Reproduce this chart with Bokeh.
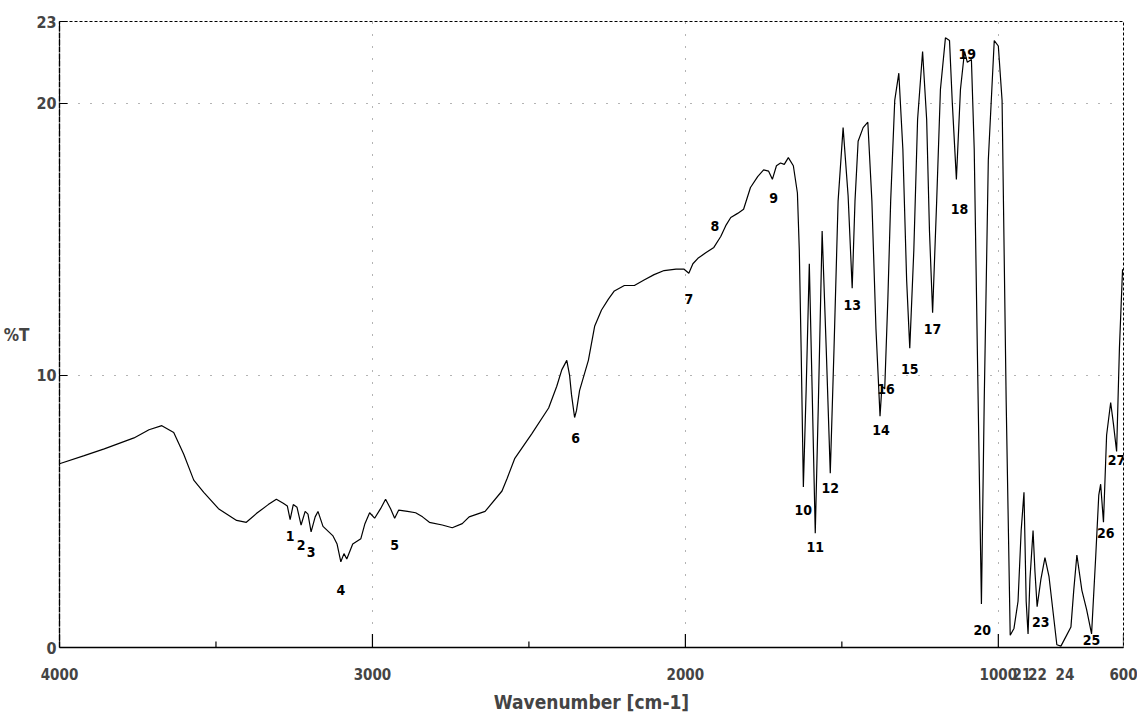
from bokeh.plotting import figure
from bokeh.models import Range1d, FixedTicker, LabelSet, ColumnDataSource
from bokeh.core.properties import value
from bokeh.embed import file_html
from bokeh.resources import INLINE

# ---- spectrum data (wavenumber cm-1, %T) ----
wavenumber = [4000, 3921, 3857, 3762, 3714, 3673, 3635, 3603, 3571, 3539, 3492, 3434, 3403, 3371,
              3333, 3307, 3285, 3272, 3263, 3253, 3241, 3228, 3215, 3206, 3196, 3183, 3174, 3158,
              3126, 3113, 3101, 3091, 3082, 3063, 3037, 3024, 3009, 2993, 2974, 2958, 2942, 2929,
              2916, 2888, 2862, 2840, 2818, 2777, 2745, 2713, 2691, 2640, 2586, 2570, 2545, 2491,
              2437, 2411, 2395, 2379, 2370, 2364, 2354, 2348, 2338, 2310, 2290, 2268, 2246, 2227,
              2195, 2163, 2132, 2100, 2068, 2030, 2004, 1989, 1976, 1960, 1935, 1909, 1887, 1871,
              1855, 1833, 1814, 1792, 1769, 1750, 1734, 1722, 1709, 1696, 1684, 1671, 1655, 1642,
              1636, 1630, 1623, 1614, 1604, 1595, 1585, 1575, 1563, 1550, 1537, 1525, 1512, 1496,
              1480, 1467, 1458, 1448, 1432, 1417, 1404, 1391, 1378, 1372, 1363, 1353, 1344, 1331,
              1318, 1305, 1293, 1283, 1270, 1258, 1242, 1229, 1220, 1210, 1197, 1185, 1169, 1156,
              1147, 1134, 1121, 1108, 1099, 1086, 1077, 1067, 1054, 1045, 1032, 1013, 1000, 988,
              975, 962, 950, 937, 927, 918, 911, 905, 899, 889, 883, 876, 864, 851, 838, 822, 813,
              800, 784, 768, 759, 749, 733, 718, 702, 689, 679, 673, 664, 654, 641, 632, 622, 613, 603]
transmittance = [6.75, 7.05, 7.3, 7.7, 8.0, 8.15, 7.9, 7.1, 6.15, 5.7, 5.1, 4.67, 4.6, 4.92,
                 5.25, 5.45, 5.3, 5.2, 4.7, 5.25, 5.15, 4.5, 5.0, 4.9, 4.25, 4.8, 5.0, 4.45,
                 4.1, 3.8, 3.15, 3.45, 3.25, 3.8, 4.0, 4.55, 4.95, 4.75, 5.1, 5.45, 5.1, 4.75,
                 5.05, 5.0, 4.95, 4.8, 4.6, 4.5, 4.4, 4.55, 4.8, 5.0, 5.75, 6.2, 6.95, 7.85,
                 8.8, 9.6, 10.2, 10.55, 10.0, 9.3, 8.45, 8.7, 9.45, 10.55, 11.8, 12.4, 12.8, 13.1,
                 13.3, 13.3, 13.5, 13.7, 13.85, 13.9, 13.9, 13.75, 14.1, 14.3, 14.5, 14.7, 15.1, 15.5,
                 15.8, 15.95, 16.1, 16.9, 17.3, 17.55, 17.5, 17.2, 17.7, 17.8, 17.75, 18.0, 17.7, 16.7,
                 14.6, 10.9, 5.9, 9.5, 14.1, 9.5, 4.2, 9.0, 15.3, 11.0, 6.4, 11.0, 16.4, 19.1,
                 16.6, 13.2, 16.4, 18.6, 19.1, 19.3, 16.4, 11.7, 8.5, 9.6, 9.5, 12.8, 16.4, 20.1,
                 21.1, 18.3, 13.5, 11.0, 14.6, 19.4, 21.9, 19.4, 15.3, 12.3, 16.4, 20.5, 22.4, 22.3,
                 20.0, 17.2, 20.5, 21.9, 21.5, 21.6, 18.3, 10.9, 1.6, 9.1, 17.9, 22.3, 22.1, 20.1,
                 9.1, 0.45, 0.7, 1.7, 4.3, 5.7, 1.7, 0.5, 2.5, 4.3, 2.8, 1.5, 2.5, 3.3, 2.6, 1.0, 0.1,
                 0.05, 0.4, 0.75, 2.1, 3.4, 2.1, 1.4, 0.5, 3.3, 5.6, 6.0, 4.6, 7.8, 9.0, 8.2, 7.2, 11.0, 13.9]

# ---- peak labels drawn inside the plot ----
peak_labels = ["1", "2", "3", "4", "5", "6", "7", "8", "9", "10", "11", "12", "13", "14",
               "15", "16", "17", "18", "19", "20", "23", "25", "26", "27"]
peak_wn = [3263, 3228, 3196, 3101, 2929, 2351, 1989, 1906, 1718, 1623, 1585, 1537, 1467, 1375,
           1283, 1359, 1210, 1124, 1099, 1051, 864, 702, 657, 622]
peak_t = [4.1, 3.75, 3.5, 2.1, 3.75, 7.7, 12.8, 15.5, 16.5, 5.04, 3.7, 5.85, 12.6, 8.0,
          10.25, 9.5, 11.7, 16.1, 21.8, 0.63, 0.92, 0.26, 4.2, 6.9]
# ---- peak labels that sit under the x axis ----
low_peak_labels = ["21", "22", "24"]
low_peak_wn = [925, 875, 787]

x_ticks = [4000, 3000, 2000, 1000, 600]
x_minor = [3500, 2500, 1500]
y_ticks = [0, 10, 20, 23]

FONT = "DejaVu Sans Condensed"

p = figure(width=1137, height=725, x_range=Range1d(4000, 600), y_range=Range1d(0, 23),
           output_backend="svg", toolbar_location=None,
           min_border_left=55, min_border_right=14, min_border_top=21, min_border_bottom=78)
p.background_fill_color = "white"
p.border_fill_color = "white"
p.outline_line_color = "black"
p.outline_line_dash = "3 2"
p.outline_line_width = 1

p.line(wavenumber, transmittance, line_color="black", line_width=1.2)

src = ColumnDataSource(dict(x=peak_wn, y=peak_t, t=peak_labels))
p.add_layout(LabelSet(x="x", y="y", text="t", source=src, text_align="center",
                      text_baseline="middle", text_font=value(FONT),
                      text_font_style="bold", text_font_size="14px", text_color="black"))

# x-axis tick marks drawn from the tick list (so that the peak labels below the axis get no tick)
p.segment(x0=x_ticks, y0=[0] * len(x_ticks), x1=x_ticks, y1=[0.5] * len(x_ticks),
          line_color="black", line_width=1.2)
p.segment(x0=x_minor, y0=[0] * len(x_minor), x1=x_minor, y1=[0.22] * len(x_minor),
          line_color="black", line_width=1.2)

xa = p.xaxis[0]
xa.ticker = FixedTicker(ticks=x_ticks + low_peak_wn, minor_ticks=[])
overrides = {t: str(t) for t in x_ticks}
overrides.update({w: l for w, l in zip(low_peak_wn, low_peak_labels)})
xa.major_label_overrides = overrides
xa.axis_label = "Wavenumber [cm-1]"
xa.axis_label_text_font = FONT
xa.axis_label_text_font_style = "bold"
xa.axis_label_text_font_size = "19px"
xa.axis_label_standoff = 8
xa.major_label_text_font = FONT
xa.major_label_text_font_style = "bold"
xa.major_label_text_font_size = "15px"
xa.major_label_standoff = 14
xa.major_tick_line_color = None
xa.minor_tick_line_color = None
xa.axis_line_color = "black"
xa.axis_line_width = 1.6

ya = p.yaxis[0]
ya.ticker = FixedTicker(ticks=y_ticks)
ya.axis_label = "%T"
ya.axis_label_orientation = "horizontal"
ya.axis_label_text_font = FONT
ya.axis_label_text_font_style = "bold"
ya.axis_label_text_font_size = "17px"
ya.axis_label_standoff = 4
ya.major_label_text_font = FONT
ya.major_label_text_font_style = "bold"
ya.major_label_text_font_size = "16px"
ya.major_label_standoff = 3
ya.major_tick_in = 8
ya.major_tick_out = 0
ya.minor_tick_line_color = None
ya.axis_line_color = "black"
ya.axis_line_width = 1.4
ya.axis_line_dash = "6 1"

for g in (p.xgrid[0], p.ygrid[0]):
    g.grid_line_color = "#444444"
    g.grid_line_dash = "1 11"
    g.grid_line_alpha = 0.8
p.xgrid[0].ticker = FixedTicker(ticks=[3000, 2000, 1000])
p.ygrid[0].ticker = FixedTicker(ticks=[10, 20])

open("out.html", "w").write(file_html(p, INLINE))
